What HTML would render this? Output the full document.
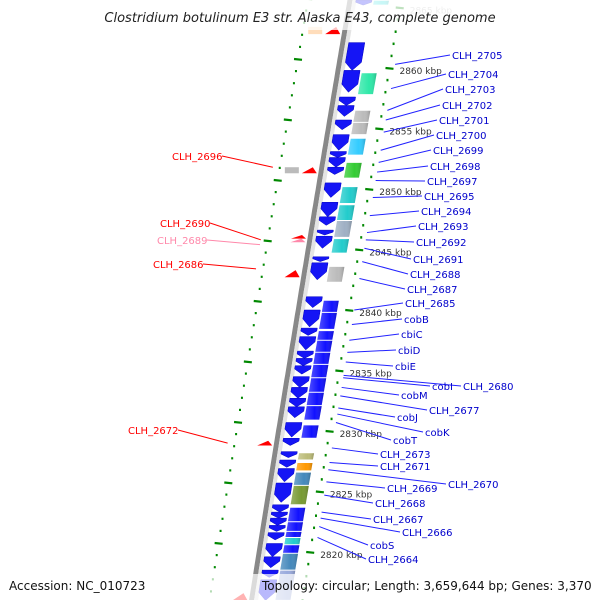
<!DOCTYPE html>
<html><head><meta charset="utf-8"><style>
html,body{margin:0;padding:0;background:#fff}
svg{display:block}
text{font-family:"DejaVu Sans","Liberation Sans",sans-serif}
</style></head><body>
<svg id="map" width="600" height="600" viewBox="0 0 600 600" xmlns="http://www.w3.org/2000/svg">
<defs>
<linearGradient id="gb" x1="0" x2="1" y1="0" y2="0"><stop offset="0" stop-color="#fff" stop-opacity="0.25"/><stop offset="0.6" stop-color="#fff" stop-opacity="0"/><stop offset="1" stop-color="#000" stop-opacity="0.2"/></linearGradient>
</defs>
<g id="ringL"></g>
<g id="backbone"></g>
<g id="trackA"></g>
<g id="trackB"></g>
<g id="ringR"></g>
<g id="labels"></g>
<rect x="0" y="0" width="600" height="30" fill="#fff" opacity="0.75"/>
<text x="300" y="22" text-anchor="middle" font-size="13" font-style="italic" fill="#222">Clostridium botulinum E3 str. Alaska E43, complete genome</text>
<rect x="0" y="574" width="600" height="26" fill="#fff" opacity="0.7"/>
<text x="9" y="590" font-size="12" fill="#111">Accession: NC_010723</text>
<text x="262" y="590" font-size="12" fill="#111">Topology: circular; Length: 3,659,644 bp; Genes: 3,370</text>
</svg>
<script>
// ---- data (kbp) ----
const trackAStart=[2865.6,2862.1,2859.8,2857.6,2856.9,2855.7,2854.5,2853.1,2852.6,2851.8,2850.5,2848.9,2847.7,2846.6,2846.1,2844.4,2843.9,2841.1,2840.0,2838.5,2837.8,2836.6,2836.0,2835.4,2834.5,2833.6,2832.7,2832.0,2830.7,2829.4,2828.3,2827.6,2826.9,2825.7,2823.9,2823.3,2822.8,2822.2,2821.6,2820.7,2819.6,2818.5,2817.7];
const trackAEnd=[2865.2,2859.8,2858.0,2856.9,2856.0,2854.9,2853.2,2852.6,2851.8,2851.2,2849.3,2847.7,2847.0,2846.2,2845.1,2844.0,2842.5,2840.2,2838.6,2837.9,2836.7,2836.0,2835.4,2834.7,2833.6,2832.7,2832.0,2831.1,2829.5,2828.8,2827.8,2827.0,2825.8,2824.1,2823.3,2822.8,2822.2,2821.7,2821.0,2819.6,2818.7,2817.9,2816.0];
const trackBStart=[2865.6,2859.6,2856.5,2855.5,2854.2,2852.2,2850.2,2848.7,2847.4,2845.9,2843.6,2840.8,2839.8,2838.3,2837.5,2836.5,2835.5,2834.4,2833.2,2832.1,2830.5,2828.2,2827.4,2826.6,2825.5,2823.7,2822.5,2821.7,2821.2,2820.6,2819.9,2818.5];
const trackBEnd=[2865.2,2857.8,2855.5,2854.5,2852.8,2850.9,2848.8,2847.4,2846.0,2844.7,2842.3,2839.8,2838.4,2837.5,2836.5,2835.5,2834.4,2833.2,2832.1,2830.9,2829.4,2827.6,2826.7,2825.5,2823.9,2822.5,2821.7,2821.2,2820.6,2819.9,2818.5,2816.0];
const trackBColor=["#2dd","#2ee8a8","#bbb","#bbb","#3cf","#3c3","#2cc","#2cc","#9fb0c4","#2cc","#bbb","#11f","#11f","#11f","#11f","#11f","#11f","#11f","#11f","#11f","#11f","#bb7","#f90","#48b","#793","#11f","#11f","#11f","#2cc","#11f","#48b","#9ad"];
const tickMajor=[2865,2860,2855,2850,2845,2840,2835,2830,2825,2820];
const tickLabels=["2865 kbp","2860 kbp","2855 kbp","2850 kbp","2845 kbp","2840 kbp","2835 kbp","2830 kbp","2825 kbp","2820 kbp"];
const rightNames=["CLH_2705","CLH_2704","CLH_2703","CLH_2702","CLH_2701","CLH_2700","CLH_2699","CLH_2698","CLH_2697","CLH_2695","CLH_2694","CLH_2693","CLH_2692","CLH_2691","CLH_2688","CLH_2687","CLH_2685","cobB","cbiC","cbiD","cbiE","CLH_2680","cobI","cobM","CLH_2677","cobJ","cobK","cobT","CLH_2673","CLH_2671","CLH_2670","CLH_2669","CLH_2668","CLH_2667","CLH_2666","cobS","CLH_2664"];
const rightAnchor=[2860.3,2858.3,2856.5,2855.7,2854.7,2853.2,2852.2,2851.4,2850.7,2849.3,2847.8,2846.4,2845.8,2845.1,2844.0,2842.6,2840.0,2838.8,2837.5,2836.5,2835.7,2834.6,2834.4,2833.6,2832.9,2831.9,2831.4,2830.7,2828.6,2827.4,2826.8,2825.8,2824.7,2823.3,2822.8,2822.1,2821.2];
// label layout (pixels)
const rightLabelX=[452,448,445,442,439,436,433,430,427,424,421,418,416,413,410,407,405,404,401,398,395,463,432,401,429,397,425,393,380,380,448,387,375,373,402,370,368];
const rightLabelY=[59,78,93,109,124,139,154,170,185,200,215,230,246,263,278,293,307,323,338,354,370,390,390,399,414,421,436,444,458,470,488,492,507,523,536,549,563];
const leftNames=["CLH_2696","CLH_2690","CLH_2689","CLH_2686","CLH_2672"];
const leftAnchor=[2851.8,2845.8,2845.4,2843.4,2829.0];
const leftColor=["#f00","#f00","#f8a","#f00","#f00"];
const leftLabelX=[172,160,157,153,128];
const leftLabelY=[160,227,244,268,434];
const leftFeatStart=[2863.4,2851.8,2846.2,2845.9,2843.3,2829.2,2816.6];
const leftFeatEnd=[2862.8,2851.3,2845.9,2845.6,2842.7,2828.8,2816.0];
const leftFeatKind=["tri","tri","tri","tri-pink","tri","tri","tri"];

// ---- scales ----
const Y=k=>68+(2860-k)*12.1;
const X=y=>351-0.17*y+0.00001*y*y;
const NS="http://www.w3.org/2000/svg";
function mk(tag,attrs,parent){const e=document.createElementNS(NS,tag);for(const k in attrs)e.setAttribute(k,attrs[k]);parent.appendChild(e);return e;}
const g=id=>document.getElementById(id);

let pts=[],pts2=[];for(let y=-5;y<=605;y+=5){pts.push((X(y)-1).toFixed(1)+","+y);pts2.push((X(y)+3.5).toFixed(1)+","+y);}
let bb=mk("polyline",{points:pts.join(" "),fill:"none",stroke:"#888","stroke-width":5},g("backbone"));


let bb2=mk("polyline",{points:pts2.join(" "),fill:"none",stroke:"#e4e4e4","stroke-width":4},g("backbone"));



for(let i=0;i<trackAStart.length;i++){
  const y1=Y(trackAStart[i]),y2=Y(trackAEnd[i]),h=y2-y1;
  const yh=y2-Math.min(8,h*0.6),a=5,b=21,m=13;
  const p=[[X(y1)+a,y1],[X(y1)+b,y1],[X(yh)+b,yh],[X(y2)+m,y2],[X(yh)+a,yh]].map(q=>q[0].toFixed(1)+","+q[1].toFixed(1)).join(" ");
  const e=mk("polygon",{points:p,fill:"#1515f5",stroke:"#0000c0","stroke-width":0.5},g("trackA"));
  
  
}
for(let i=0;i<trackBStart.length;i++){
  const y1=Y(trackBStart[i]),y2=Y(trackBEnd[i]),a=23,b=38;
  const p=[[X(y1)+a,y1+0.5],[X(y1)+b,y1+0.5],[X(y2)+b,y2-0.5],[X(y2)+a,y2-0.5]].map(q=>q[0].toFixed(1)+","+q[1].toFixed(1)).join(" ");
  const e=mk("polygon",{points:p,fill:trackBColor[i]},g("trackB"));
  
  
  mk("polygon",{points:p,fill:"url(#gb)"},g("trackB"));
}
for(let k=2866;k>=2815;k--){
  const y=Y(k),x=X(y)+50;
  const major=tickMajor.indexOf(k);
  const e=mk("line",{x1:x-(major>=0?4:1),y1:y,x2:x+(major>=0?4:1),y2:y+(major>=0?0.8:0),stroke:"#080","stroke-width":major>=0?2.2:2.5},g("ringR"));
  
  
  if(major>=0){
    const t=mk("text",{x:x+10,y:y+6,"font-size":9,fill:k==2865?"#bbb":"#333"},g("ringR"));
    t.textContent=tickLabels[major];
    
    
  }
}
for(let k=2866;k>=2815;k--){
  const y=Y(k)-9,x=X(y)-43;
  const major=(k%5===0);
  const e=mk("line",{x1:x-(major?4:1),y1:y,x2:x+(major?4:1),y2:y+(major?0.8:0),stroke:"#080","stroke-width":2.2},g("ringL"));
  
  
}
for(let i=0;i<leftFeatStart.length;i++){
  const y1=Y(leftFeatStart[i]),y2=Y(leftFeatEnd[i]),x=X(y2);
  const p=[[x-20,y2],[x-5,y2],[x-9,y1]].map(q=>q[0].toFixed(1)+","+q[1].toFixed(1)).join(" ");
  const e=mk("polygon",{points:p,fill:leftFeatKind[i]==="tri-pink"?"#f8a":"#f00"},g("trackA"));
  
  
}
[[2863.4,2862.8,"#fdb"],[2851.8,2851.3,"#bbb"]].forEach(d=>{
  const y1=Y(d[0]),y2=Y(d[1]),x=X(y2);
  const e=mk("rect",{x:x-37,y:y1,width:14,height:y2-y1,fill:d[2]},g("trackA"));
  
  
});
for(let i=0;i<rightNames.length;i++){
  const ay=Y(rightAnchor[i]),ax=X(ay)+55;
  const l=mk("line",{x1:ax,y1:ay,x2:rightLabelX[i]-2,y2:rightLabelY[i]-4,stroke:"#22f","stroke-width":1},g("labels"));
  
  
  const t=mk("text",{x:rightLabelX[i],y:rightLabelY[i],"font-size":10,fill:"#00c"},g("labels"));
  t.textContent=rightNames[i];
  
  
}
for(let i=0;i<leftNames.length;i++){
  const ay=Y(leftAnchor[i]),ax=X(ay)-50;
  const l=mk("line",{x1:leftLabelX[i]+50,y1:leftLabelY[i]-4,x2:ax,y2:ay,stroke:leftColor[i],"stroke-width":1},g("labels"));
  
  
  const t=mk("text",{x:leftLabelX[i],y:leftLabelY[i],"font-size":10,fill:leftColor[i]},g("labels"));
  t.textContent=leftNames[i];
  
  
}
</script>
</body></html>
